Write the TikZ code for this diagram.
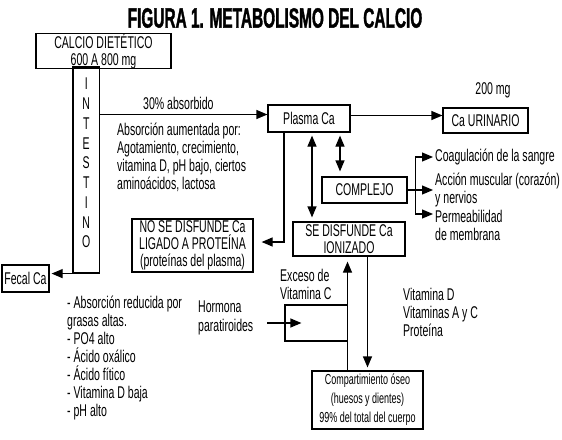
\documentclass[tikz,border=0pt]{standalone}
\usepackage{fontspec}
\setmainfont{Liberation Sans}[FakeStretch=0.62]
\newfontfamily\titulofam{Liberation Sans}[FakeStretch=0.55, BoldFeatures={FakeBold=1.2}]
\usetikzlibrary{arrows.meta}
\newcommand\fuentetitulo{\fontsize{28}{30}\titulofam\bfseries}
\newcommand\fuentetexto{\fontsize{17}{18}\selectfont}
\newcommand\fuentecaja{\fontsize{17}{17}\selectfont}
\newcommand\fuentechica{\fontsize{14.5}{19}\selectfont}

\begin{document}
\begin{tikzpicture}[
        x=1pt, y=-1pt,
        font=\fuentetexto,
        caja/.style={draw, line width=1.2pt, inner sep=0pt, align=center, font=\fuentecaja},
        texto/.style={anchor=west, inner sep=0pt, align=left},
        flecha/.style={line width=1.2pt, -{Triangle[length=11pt,width=9pt]}},
        doble/.style={line width=1.2pt, {Triangle[length=11pt,width=9pt]}-{Triangle[length=11pt,width=9pt]}},
        ]
        \useasboundingbox (0,0) rectangle (562,439);

        \node[font=\fuentetitulo] (titulo) at (275,18) {FIGURA 1. METABOLISMO DEL CALCIO};

        % cajas
        \node[caja, minimum width=135pt, minimum height=32pt] (dieta) at (103.5,51) {CALCIO DIETÉTICO\\600 A 800 mg};
        \node[caja, minimum width=26.5pt, minimum height=206pt] (intestino) at (86.25,170) {};
        \node[align=center, inner sep=0pt, font=\fontsize{17}{19.75}\selectfont] (letras) at (86.25,163) {I\\N\\T\\E\\S\\T\\I\\N\\O};
        \node[caja, minimum width=47pt, minimum height=27pt] (fecal) at (25.5,278.5) {Fecal Ca};
        \node[caja, minimum width=82pt, minimum height=27pt] (plasma) at (309,118.5) {Plasma Ca};
        \node[caja, minimum width=85pt, minimum height=25pt] (urinario) at (485.5,120.5) {Ca URINARIO};
        \node[caja, minimum width=85pt, minimum height=26pt] (complejo) at (364.5,190) {COMPLEJO};
        \node[caja, minimum width=112pt, minimum height=34pt] (ionizado) at (349,239) {SE DISFUNDE Ca\\IONIZADO};
        \node[caja, minimum width=121pt, minimum height=53pt] (ligado) at (192.5,245.5) {NO SE DISFUNDE Ca\\LIGADO A PROTEÍNA\\(proteínas del plasma)};
        \node[caja, minimum width=111pt, minimum height=58pt, font=\fuentechica] (oseo) at (367.5,400) {Compartimiento óseo\\(huesos y dientes)\\99\% del total del cuerpo};
        \node[caja, minimum width=62.5pt, minimum height=36pt] (pth) at (316.25,323) {};

        % textos
        \node[texto] (absorbido) at (143,103) {30\% absorbido};
        \node[texto] (aumentada) at (117,157) {Absorción aumentada por:\\Agotamiento, crecimiento,\\vitamina D, pH bajo, ciertos\\aminoácidos, lactosa};
        \node (mg) at (493,90) {200 mg};
        \node[texto] (coag) at (435,157) {Coagulación de la sangre};
        \node[texto] (musc) at (435,190) {Acción muscular (corazón)\\y nervios};
        \node[texto] (memb) at (435,225) {Permeabilidad\\de membrana};
        \node[texto] (exceso) at (280,284) {Exceso de\\Vitamina C};
        \node[texto, font=\fontsize{17}{19}\selectfont] (hormona) at (198,318) {Hormona\\paratiroides};
        \node[texto] (vitaminas) at (403,312) {Vitamina D\\Vitaminas A y C\\Proteína};
        \node[texto] (reducida) at (67,358) {- Absorción reducida por\\grasas altas.\\- PO4 alto\\- Ácido oxálico\\- Ácido fítico\\- Vitamina D baja\\- pH alto};

        % flechas
        \coordinate (entrada) at ([yshift=4pt]plasma.west);
        \draw[flecha] (entrada -| intestino.east) -- (entrada);
        \coordinate (salida) at ([yshift=3pt]plasma.east);
        \draw[flecha] (salida) -- (salida -| urinario.west);
        \coordinate (baja) at ([xshift=-25pt]plasma.south);
        \draw[flecha, shorten >=8pt] (baja) |- ([yshift=3.5pt]ligado.east);
        \coordinate (p1) at ([xshift=3pt]plasma.south);
        \draw[doble, shorten <=3pt, shorten >=4pt] (p1) -- (p1 |- ionizado.north);
        \coordinate (p2) at ([xshift=31pt]plasma.south);
        \draw[doble, shorten <=3pt, shorten >=5pt] (p2) -- (p2 |- complejo.north);

        \coordinate (rama) at ([xshift=8pt]complejo.east);
        \draw[line width=1.2pt] (complejo.east) -- (rama);
        \foreach \destino/\dy in {coag/0, musc/0, memb/11}
        {
            \draw[flecha, shorten >=2pt] (rama) |- ([yshift=\dy pt]\destino.west);
        }

        \coordinate (sube) at ([xshift=-20pt]oseo.north);
        \draw[flecha, shorten >=5pt] (sube) -- (sube |- ionizado.south);
        \draw[flecha, shorten >=3pt] (oseo.north |- ionizado.south) -- (oseo.north);
        \draw[flecha] ([xshift=-17pt]pth.west) -- ([xshift=17pt]pth.west);
        \draw[flecha, shorten >=2pt] (intestino.south west) -- (intestino.south west -| fecal.east);

    \end{tikzpicture}
\end{document}
